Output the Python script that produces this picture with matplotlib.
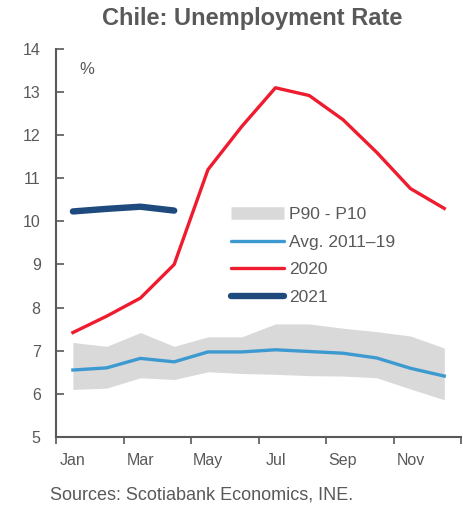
import numpy as np
import matplotlib.pyplot as plt
from matplotlib.lines import Line2D

plt.rcParams['font.family'] = ['Liberation Sans', 'DejaVu Sans']

# Daten
months = ['Jan', 'Feb', 'Mar', 'Apr', 'May', 'Jun',
          'Jul', 'Aug', 'Sep', 'Oct', 'Nov', 'Dec']
p90 = [7.19, 7.10, 7.42, 7.10, 7.32, 7.32, 7.62, 7.62, 7.52, 7.44, 7.34, 7.06]
p10 = [6.10, 6.13, 6.37, 6.33, 6.51, 6.47, 6.45, 6.42, 6.41, 6.37, 6.11, 5.86]
avg = [6.55, 6.60, 6.82, 6.74, 6.97, 6.97, 7.02, 6.98, 6.94, 6.83, 6.59, 6.41]
y2020 = [7.42, 7.80, 8.22, 9.00, 11.20, 12.20, 13.10, 12.92, 12.36, 11.60, 10.76, 10.30]
y2021 = [10.23, 10.29, 10.34, 10.25]

grey = '#595959'
c_band = '#d9d9d9'
c_avg = '#3d9ad1'
c_2020 = '#ee1c2e'
c_2021 = '#1f4a7e'

x = np.arange(len(months))

fig = plt.figure(figsize=(4.63, 5.05), dpi=100)
ax = fig.add_axes([0.121, 0.135, 0.875, 0.768])

ax.fill_between(x, p10, p90, color=c_band, lw=0)
ax.plot(x, avg, color=c_avg, lw=2.4)
ax.plot(x, y2020, color=c_2020, lw=2.4)
ax.plot(x[:len(y2021)], y2021, color=c_2021, lw=4.6, solid_capstyle='round')

ax.set_xlim(-0.5, 11.5)
ax.set_ylim(5, 14)
ax.set_yticks(range(5, 15))

# x-Achse: Striche an den Grenzen, Beschriftung jeden zweiten Monat
ax.set_xticks(np.arange(-0.5, 12, 2))
ax.set_xticklabels([])
ax.set_xticks(x[::2], minor=True)
ax.set_xticklabels(months[::2], minor=True)
ax.tick_params(axis='x', which='major', direction='out', length=5, width=1.2, color=grey)
ax.tick_params(axis='x', which='minor', length=0, pad=12, labelsize=11.5, labelcolor=grey)
ax.tick_params(axis='y', direction='in', length=6, width=1.2, color=grey,
               labelsize=11.5, labelcolor=grey, pad=11)

for s in ['top', 'right']:
    ax.spines[s].set_visible(False)
for s in ['left', 'bottom']:
    ax.spines[s].set_color(grey)
    ax.spines[s].set_linewidth(1.5)

ax.text(0.2, 13.53, '%', fontsize=12, color=grey, va='center', ha='left')

handles = [
    Line2D([], [], color=c_band, lw=9, solid_capstyle='butt'),
    Line2D([], [], color=c_avg, lw=2.4, solid_capstyle='round'),
    Line2D([], [], color=c_2020, lw=2.4, solid_capstyle='round'),
    Line2D([], [], color=c_2021, lw=4.6, solid_capstyle='round'),
]
labels = ['P90 - P10', 'Avg. 2011\u201319', '2020', '2021']
leg = ax.legend(handles, labels, loc='upper left', bbox_to_anchor=(0.415, 0.61),
                frameon=False, fontsize=12.5, handlelength=3.05, handletextpad=0.3,
                labelspacing=0.71, borderaxespad=0)
for t in leg.get_texts():
    t.set_color(grey)

fig.text(0.545, 0.963, 'Chile: Unemployment Rate', fontsize=17, fontweight='bold',
         color=grey, ha='center', va='center')
fig.text(0.108, 0.02, 'Sources: Scotiabank Economics, INE.', fontsize=13,
         color=grey, ha='left', va='center')

fig.savefig('out.png', dpi=100)
